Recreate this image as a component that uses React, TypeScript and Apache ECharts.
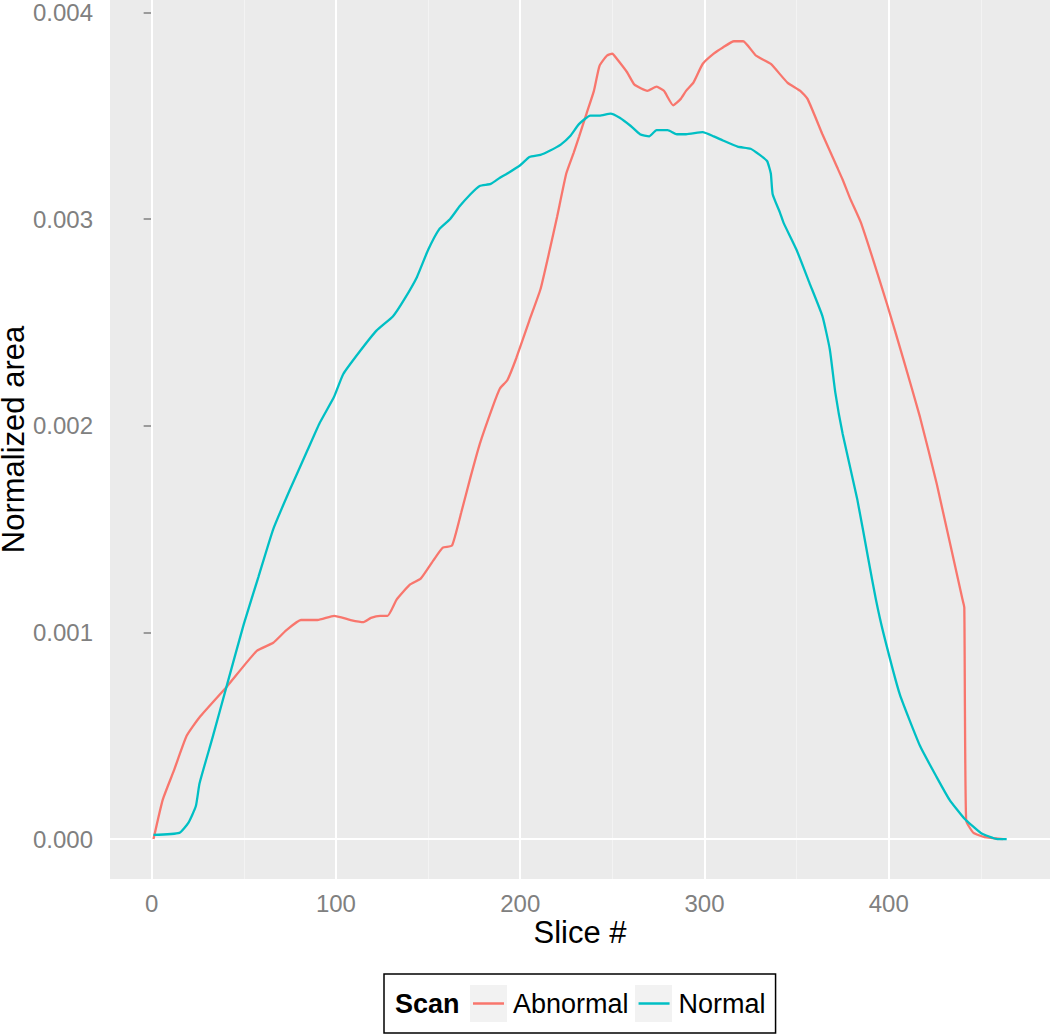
import React, { useEffect, useRef } from "react";
import * as echarts from "echarts";

const xTicks = [0, 100, 200, 300, 400];
const xMinor = [50, 150, 250, 350, 450];
const yTicks = [0, 0.001, 0.002, 0.003, 0.004];
const yMinor = [0.0005, 0.0015, 0.0025, 0.0035];

const abnormalSlice = [1, 6, 12, 19, 26, 41, 57, 66, 73, 81, 90, 99, 108, 115, 119, 124, 128, 133, 140, 146, 153, 158, 163, 168, 173, 178, 185, 189, 193, 198, 205, 211, 216, 220, 225, 229, 232, 236, 240, 243, 247, 250, 252, 258, 262, 269, 274, 278, 283, 287, 290, 294, 299, 305, 310, 316, 321, 328, 336, 345, 352, 356, 364, 368, 372, 375, 379, 385, 399, 408, 417, 426, 440, 441, 442, 446, 452, 462];
const abnormalArea = [0.0, 0.00019, 0.00033, 0.0005, 0.00059, 0.00074, 0.00091, 0.00095, 0.00101, 0.00106, 0.00106, 0.00108, 0.00106, 0.00105, 0.00107, 0.00108, 0.00108, 0.00116, 0.00123, 0.00126, 0.00135, 0.00141, 0.00142, 0.00158, 0.00175, 0.00191, 0.00209, 0.00218, 0.00222, 0.00233, 0.00251, 0.00266, 0.00285, 0.00301, 0.00322, 0.00332, 0.0034, 0.00351, 0.00362, 0.00374, 0.00379, 0.0038, 0.00378, 0.00371, 0.00365, 0.00362, 0.00364, 0.00362, 0.00355, 0.00358, 0.00362, 0.00366, 0.00375, 0.0038, 0.00383, 0.00386, 0.00386, 0.00379, 0.00375, 0.00366, 0.00362, 0.00358, 0.00341, 0.00333, 0.00325, 0.00319, 0.0031, 0.00298, 0.00259, 0.00232, 0.00204, 0.00172, 0.00116, 0.00112, 0.00009, 0.00003, 0.00001, 0.0];

const normalSlice = [1, 15, 20, 24, 26, 33, 41, 50, 58, 66, 75, 84, 91, 99, 104, 113, 122, 131, 137, 144, 150, 156, 162, 167, 173, 178, 184, 189, 193, 200, 205, 211, 216, 222, 227, 232, 238, 243, 249, 254, 260, 265, 270, 274, 280, 285, 290, 299, 305, 310, 318, 325, 330, 334, 336, 337, 341, 343, 350, 357, 364, 368, 371, 375, 383, 389, 393, 397, 406, 417, 426, 433, 441, 450, 459, 464];
const normalArea = [0.00002, 0.00003, 0.00008, 0.00016, 0.00027, 0.00049, 0.00075, 0.00104, 0.00127, 0.0015, 0.00169, 0.00187, 0.00201, 0.00214, 0.00225, 0.00236, 0.00246, 0.00253, 0.00261, 0.00272, 0.00285, 0.00295, 0.003, 0.00306, 0.00312, 0.00316, 0.00317, 0.0032, 0.00322, 0.00326, 0.0033, 0.00331, 0.00333, 0.00336, 0.0034, 0.00346, 0.0035, 0.0035, 0.00351, 0.00349, 0.00345, 0.00341, 0.0034, 0.00343, 0.00343, 0.00341, 0.00341, 0.00342, 0.0034, 0.00338, 0.00335, 0.00334, 0.00331, 0.00328, 0.00322, 0.00312, 0.00303, 0.00298, 0.00285, 0.00269, 0.00253, 0.00237, 0.00216, 0.00196, 0.00164, 0.00135, 0.00116, 0.001, 0.0007, 0.00045, 0.0003, 0.00019, 0.0001, 0.00003, 0.0, 0.0];

const legendTitle = "Scan";
const seriesNames = ["Abnormal", "Normal"];
const colors = ["#F8766D", "#00BFC4"];

const FONT = "'Liberation Sans', Arial, Helvetica, sans-serif";

export default function App() {
  const ref = useRef<HTMLDivElement>(null);
  useEffect(() => {
    if (!ref.current) return;
    const chart = echarts.init(ref.current, undefined, { renderer: "svg" });
    const toPairs = (xs: number[], ys: number[]) => xs.map((x, i) => [x, ys[i]]);
    const minor = { color: "#F3F3F3", width: 1, type: "solid" };
    const major = { color: "#FFFFFF", width: 2, type: "solid" };
    const gridLines = [
      ...xMinor.map((v) => ({ xAxis: v, lineStyle: minor })),
      ...yMinor.map((v) => ({ yAxis: v, lineStyle: minor })),
      ...xTicks.map((v) => ({ xAxis: v, lineStyle: major })),
      ...yTicks.map((v) => ({ yAxis: v, lineStyle: major })),
    ];
    chart.setOption({
      animation: false,
      textStyle: { fontFamily: FONT },
      grid: {
        left: 110,
        right: 0,
        top: 0,
        bottom: 156,
        show: true,
        containLabel: false,
        outerBoundsMode: "none",
        backgroundColor: "#EBEBEB",
        borderWidth: 0,
      },
      xAxis: {
        type: "value",
        min: -22.6,
        max: 487.5,
        name: "Slice #",
        nameLocation: "middle",
        nameGap: 38,
        nameMoveOverlap: false,
        nameTextStyle: { fontSize: 31, color: "#000", fontFamily: FONT },
        axisLine: { show: false },
        axisTick: {
          show: true,
          customValues: xTicks,
          length: 8,
          lineStyle: { color: "#808080", width: 1.5 },
        },
        axisLabel: {
          customValues: xTicks,
          margin: 12,
          fontSize: 24,
          color: "#808080",
          fontFamily: FONT,
        },
        splitLine: { show: false },
      },
      yAxis: {
        type: "value",
        min: -0.000193,
        max: 0.0040595,
        name: "Normalized area",
        nameLocation: "middle",
        nameGap: 84,
        nameMoveOverlap: false,
        nameTextStyle: { fontSize: 31, lineHeight: 26, color: "#000", fontFamily: FONT },
        axisLine: { show: false },
        axisTick: {
          show: true,
          customValues: yTicks,
          length: 8,
          lineStyle: { color: "#808080", width: 1.5 },
        },
        axisLabel: {
          customValues: yTicks,
          margin: 17,
          fontSize: 24,
          color: "#808080",
          fontFamily: FONT,
          formatter: (v: number) => v.toFixed(3),
        },
        splitLine: { show: false },
      },
      legend: {
        left: 384,
        top: 974,
        orient: "horizontal",
        data: seriesNames.map((n) => ({ name: n, icon: "rect" })),
        borderColor: "#000",
        borderWidth: 1.5,
        padding: [16, 10, 16, 89],
        itemWidth: 31,
        itemHeight: 2.5,
        itemGap: 10,
        z: 10,
        textStyle: { fontSize: 27, color: "#000", fontFamily: FONT, padding: [0, 0, 0, 4] },
      },
      graphic: [
        {
          type: "text",
          left: 395,
          top: 990,
          z: 10,
          style: { text: legendTitle, font: `bold 27px ${FONT}`, fill: "#000" },
        },
        { type: "rect", left: 470, top: 985, z: 1, shape: { width: 37, height: 37 }, style: { fill: "#F2F2F2" } },
        { type: "rect", left: 635, top: 985, z: 1, shape: { width: 37, height: 37 }, style: { fill: "#F2F2F2" } },
      ],
      series: [
        {
          name: "__grid",
          type: "line",
          data: [],
          silent: true,
          z: 1,
          markLine: {
            silent: true,
            z: 1,
            symbol: ["none", "none"],
            label: { show: false },
            emphasis: { disabled: true },
            data: gridLines,
          },
        },
        {
          name: seriesNames[0],
          type: "line",
          data: toPairs(abnormalSlice, abnormalArea),
          showSymbol: false,
          symbol: "none",
          smooth: 0.15,
          z: 3,
          color: colors[0],
          lineStyle: { color: colors[0], width: 2.3 },
        },
        {
          name: seriesNames[1],
          type: "line",
          data: toPairs(normalSlice, normalArea),
          showSymbol: false,
          symbol: "none",
          smooth: 0.15,
          z: 3,
          color: colors[1],
          lineStyle: { color: colors[1], width: 2.3 },
        },
      ],
    });
    return () => chart.dispose();
  }, []);
  return (
    <div
      ref={ref}
      style={{ position: "fixed", left: 0, top: 0, width: 1050, height: 1035, background: "#fff" }}
    />
  );
}
